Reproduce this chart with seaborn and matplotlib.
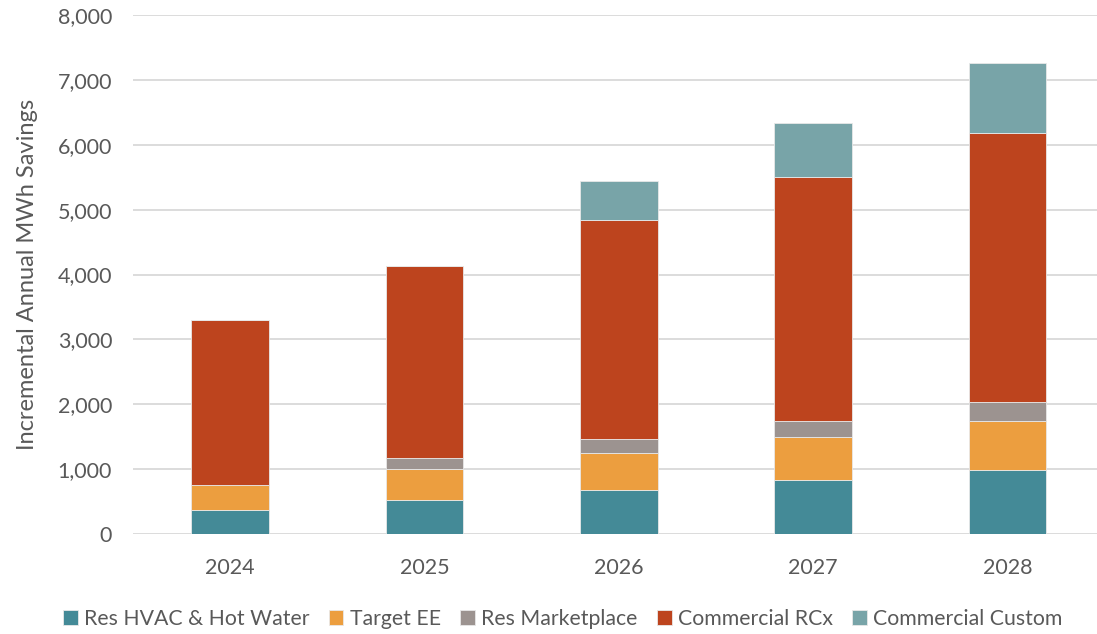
import pandas as pd
import matplotlib.pyplot as plt
import seaborn as sns

# Data
years = ['2024', '2025', '2026', '2027', '2028']
res_hvac = [374, 528, 685, 830, 985]
target_ee = [380, 477, 566, 670, 761]
res_marketplace = [0, 164, 211, 246, 292]
commercial_rcx = [2538, 2956, 3376, 3754, 4144]
commercial_custom = [0, 0, 600, 842, 1072]

series = {
    'Res HVAC & Hot Water': res_hvac,
    'Target EE': target_ee,
    'Res Marketplace': res_marketplace,
    'Commercial RCx': commercial_rcx,
    'Commercial Custom': commercial_custom,
}
colors = ['#448A97', '#EC9E3F', '#9C9390', '#BD441E', '#78A4A8']

df = pd.DataFrame(series, index=years)

sns.set_style('white')
plt.rcParams['font.family'] = ['Lato', 'DejaVu Sans']
text_color = '#595959'

fig = plt.figure(figsize=(10.97, 6.34), dpi=100)
ax = fig.add_axes([0.1212, 0.1577, 0.8788, 0.8186])

bottom = pd.Series(0, index=years, dtype=float)
for (name, vals), col in zip(df.items(), colors):
    sns.barplot(x=df.index, y=vals, bottom=bottom.values, color=col, width=0.4,
                saturation=1, label=name, ax=ax, edgecolor='#e8e8e8',
                linewidth=0.6, zorder=3)
    bottom += vals

ax.set_ylim(0, 8000)
ax.set_xlim(-0.5, 4.46)
ax.set_yticks(range(0, 8001, 1000))
ax.set_yticklabels([f'{v:,}' for v in range(0, 8001, 1000)])
ax.grid(axis='y', color='#D9D9D9', linewidth=1.3, zorder=0)
ax.set_axisbelow(True)
for s in ax.spines.values():
    s.set_visible(False)
ax.tick_params(axis='both', length=0, labelsize=15.5, colors=text_color)
ax.tick_params(axis='y', pad=15)
ax.tick_params(axis='x', pad=17)
ax.set_xlabel('')
ax.set_ylabel('Incremental Annual MWh Savings', fontsize=17, color=text_color, labelpad=14)

handles, labels = ax.get_legend_handles_labels()
if ax.get_legend() is not None:
    ax.get_legend().remove()
fig.legend(handles, labels, loc='lower center', bbox_to_anchor=(0.513, -0.022), ncol=5,
           frameon=False, fontsize=15.3, handlelength=0.7, handleheight=0.7,
           handletextpad=0.3, columnspacing=0.9, labelcolor=text_color)

fig.savefig('out.png', dpi=100)
